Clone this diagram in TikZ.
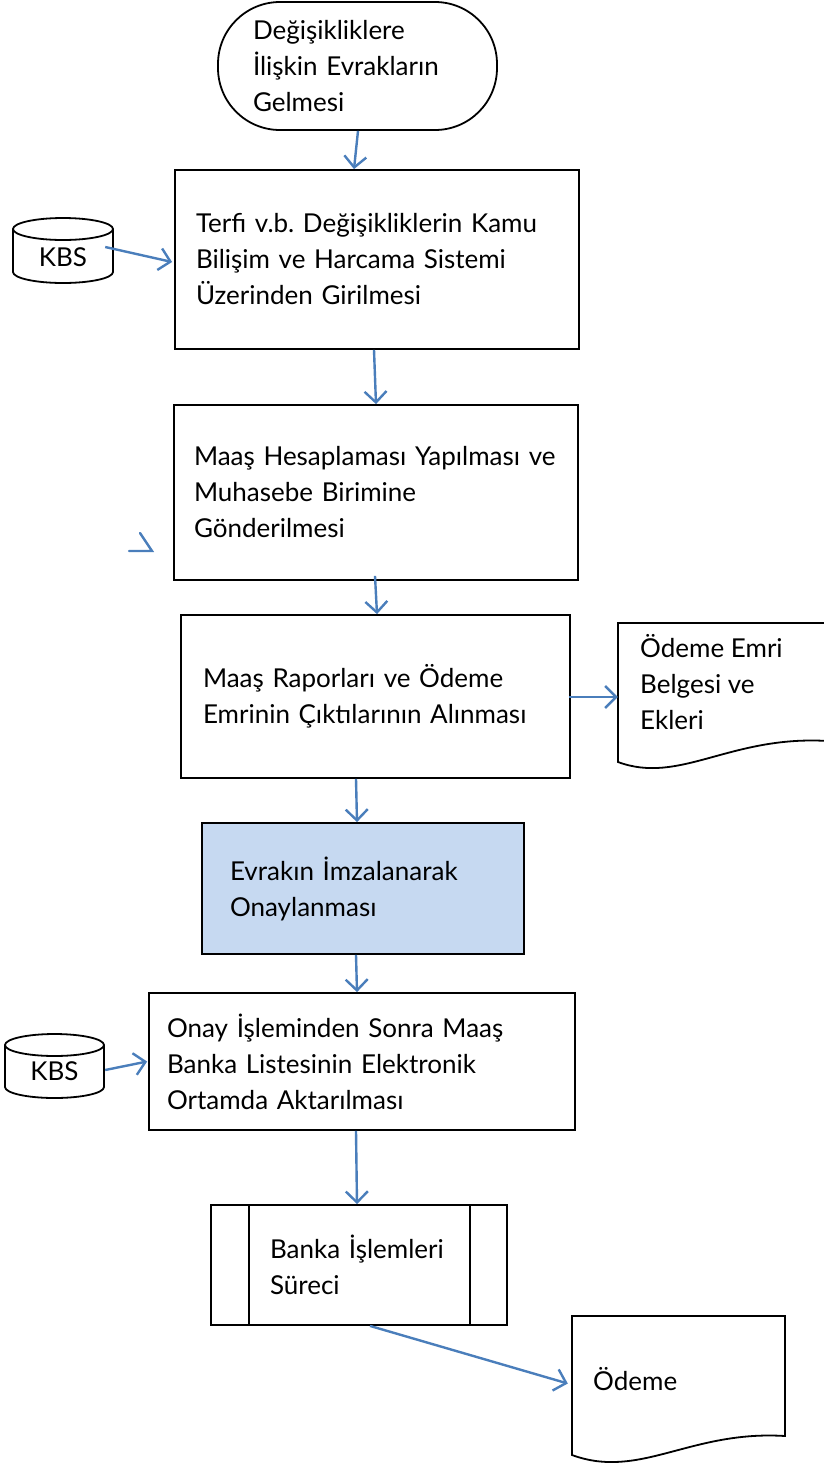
\documentclass[tikz,border=0pt]{standalone}
\usepackage{fontspec}
\setmainfont{Lato}
\frenchspacing
\usetikzlibrary{arrows.meta,calc}
\definecolor{arrblue}{HTML}{4A7EBB}
\definecolor{boxfill}{HTML}{C6D9F1}
\tikzset{
  box/.style={draw=black, line width=1.8pt, align=left, font=\fontsize{26}{36}\selectfont\frenchspacing},
  arr/.style={draw=arrblue, line width=2.4pt, -{Straight Barb[length=11pt,width=22pt,line width=2.4pt]}},
  txt/.style={align=left, font=\fontsize{26}{36}\selectfont\frenchspacing, inner sep=0pt},
  cyl/.style={draw=black, line width=1.8pt, fill=white}
}
\begin{document}
\begin{tikzpicture}[x=1pt,y=-1pt]
\useasboundingbox (0,0) rectangle (824,1465);
% terminator
\node[box, rounded corners=62pt, minimum width=279pt, minimum height=128pt, text width=209pt, inner xsep=35pt, inner ysep=0pt] (term) at (357.5,66) {Değişikliklere\\İlişkin Evrakların\\Gelmesi};
\node[box, minimum width=404pt, minimum height=179pt, text width=362pt, inner xsep=21pt, inner ysep=0pt] (terfi) at (377,259.5) {Terfi v.b. Değişikliklerin Kamu\\Bilişim ve Harcama Sistemi\\Üzerinden Girilmesi};
\node[box, minimum width=404pt, minimum height=175pt, text width=364pt, inner xsep=20pt, inner ysep=0pt] (hesap) at (376,492.5) {Maaş Hesaplaması Yapılması ve\\Muhasebe Birimine\\Gönderilmesi};
\node[box, minimum width=389pt, minimum height=163pt, text width=345pt, inner xsep=22pt, inner ysep=0pt] (rapor) at (375.5,696.5) {Maaş Raporları ve Ödeme\\Emrinin Çıktılarının Alınması};
\node[box, fill=boxfill, minimum width=322pt, minimum height=131pt, text width=266pt, inner xsep=28pt, inner ysep=0pt] (imza) at (363,888.5) {Evrakın İmzalanarak\\Onaylanması};
\node[box, minimum width=426pt, minimum height=137pt, text width=390pt, inner xsep=18pt, inner ysep=0pt] (onay) at (362,1061.5) {Onay İşleminden Sonra Maaş\\Banka Listesinin Elektronik\\Ortamda Aktarılması};
\node[box, minimum width=296pt, minimum height=120pt, text width=178pt, inner xsep=59pt, inner ysep=0pt] (banka) at (359,1265) {Banka İşlemleri\\Süreci};
\draw[line width=1.8pt] (249,1205) -- (249,1325) (470,1205) -- (470,1325);
% documents
\node[minimum width=208pt, minimum height=140pt, inner sep=0pt] (doc1) at (722,693) {};
\draw[line width=1.8pt] (828,741) .. controls (730,735) and (680,785) .. (618,762) -- (618,623) -- (828,623);
\node[txt, anchor=north west] (doc1t) at (640,634) {Ödeme Emri\\Belgesi ve\\Ekleri};
\node[minimum width=213pt, minimum height=139pt, inner sep=0pt] (doc2) at (678.5,1385.5) {};
\draw[line width=1.8pt] (785,1436) .. controls (690,1430) and (640,1480) .. (572,1455) -- (572,1316) -- (785,1316) -- cycle;
\node[txt, anchor=west] (doc2t) at (593,1379) {Ödeme};
% cylinders
\draw[cyl] (13,229) -- (13,272) arc[start angle=180, end angle=360, x radius=50pt, y radius=11pt] -- (113,229);
\draw[cyl] (63,229) ellipse [x radius=50pt, y radius=11pt];
\node[txt, minimum width=100pt, minimum height=54pt] (kbs1) at (63,257) {KBS};
\draw[cyl] (5,1045) -- (5,1087) arc[start angle=180, end angle=360, x radius=49.5pt, y radius=11pt] -- (104,1045);
\draw[cyl] (54.5,1045) ellipse [x radius=49.5pt, y radius=11pt];
\node[txt, minimum width=99pt, minimum height=54pt] (kbs2) at (54.5,1071) {KBS};
% arrows
\draw[arr] ($(term.south)+(0.5,0)$) -- ($(terfi.north)+(-23,0)$);
\draw[arr] ($(kbs1.east)+(-8,-10)$) -- ($(terfi.west)+(-2,2.5)$);
\draw[arr] ($(terfi.south)+(-3,0)$) -- ($(hesap.north)+(0,0)$);
\draw[arr] ($(hesap.south)+(-1,-5)$) -- ($(rapor.north)+(1.5,0)$);
\draw[arr] ($(rapor.east)+(-2,0.5)$) -- ($(doc1.west)+(0,4)$);
\draw[arr] ($(rapor.south)+(-19.5,0)$) -- ($(imza.north)+(-6,0)$);
\draw[arr] ($(imza.south)+(-7,0)$) -- ($(onay.north)+(-5,0)$);
\draw[arr] ($(kbs2.east)+(1,-1)$) -- ($(onay.west)+(-1,0)$);
\draw[arr] ($(onay.south)+(-6,0)$) -- ($(banka.north)+(-2,0)$);
\draw[arr] ($(banka.south)+(11,0)$) -- ($(doc2.west)+(-4,-2)$);
% stray mark
\draw[arrblue, line width=2.4pt, line cap=round] (140,533) -- (152,551) -- (129,551);
\end{tikzpicture}
\end{document}
